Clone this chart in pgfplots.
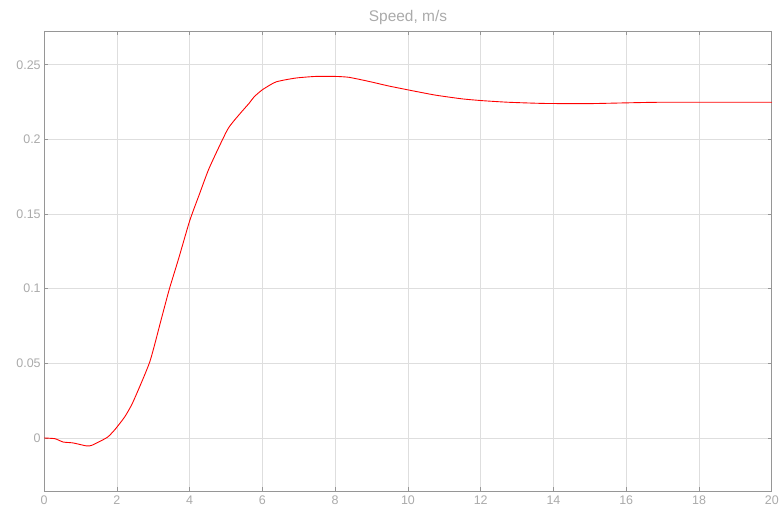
\documentclass[border=0pt]{standalone}
\usepackage{pgfplots}
\pgfplotsset{compat=1.18}
\usepackage{fontspec}
\setmainfont{Liberation Sans}
\definecolor{lbl}{RGB}{170,170,170}
\definecolor{axl}{RGB}{150,150,150}
\definecolor{grd}{RGB}{222,222,222}
\begin{document}
\begin{tikzpicture}[x=1bp,y=1bp]
\begin{axis}[
  scale only axis,
  width=729.7bp, height=461.7bp,
  xmin=0, xmax=20, ymin=-0.0357, ymax=0.2727,
  xtick={0,2,...,20},
  ytick={0,0.05,0.1,0.15,0.2,0.25},
  yticklabels={0,0.05,0.1,0.15,0.2,0.25},
  grid=major,
  major grid style={color=grd, line width=0.8pt},
  axis line style={color=axl, line width=0.8pt},
  tick style={color=axl, line width=0.8pt},
  tick align=inside,
  major tick length=4bp,
  xtick pos=both, ytick pos=both,
  tick label style={color=lbl, font=\fontsize{12.5bp}{14bp}\selectfont},
  /pgf/number format/assume math mode=true,
  xticklabel style={yshift=-1bp},
  title={Speed, m/s},
  title style={color=lbl, font=\fontsize{15.5bp}{17bp}\selectfont, yshift=-3bp},
]
\addplot[color=red, line width=0.9pt, smooth, tension=0.35] coordinates {
(0,0) (0.3,-0.0005) (0.52,-0.0027) (0.79,-0.0033) (1.16,-0.0053) (1.3,-0.005)
(1.53,-0.0023) (1.75,0.0007) (1.94,0.0055) (2.21,0.014) (2.44,0.024)
(2.9,0.0508) (3.22,0.0797) (3.44,0.0997) (3.70,0.1205) (4.0,0.1455)
(4.27,0.1635) (4.54,0.181) (5.04,0.2066) (5.36,0.2166) (5.64,0.2244)
(5.77,0.2285) (6.0,0.2333) (6.37,0.2385) (6.91,0.2411) (7.46,0.2422)
(8.01,0.2422) (8.38,0.2416) (8.92,0.2389) (9.47,0.2358) (10.02,0.2331)
(10.75,0.2297) (11.48,0.2272) (12.03,0.226) (12.76,0.2249) (13.76,0.2241)
(15.0,0.224) (16,0.2245) (17,0.2249) (20,0.2249)
};
\end{axis}
\path[use as bounding box] ([xshift=-44.3bp,yshift=-20.3bp]current axis.south west) rectangle ([xshift=8bp,yshift=31bp]current axis.north east);
\end{tikzpicture}
\end{document}
